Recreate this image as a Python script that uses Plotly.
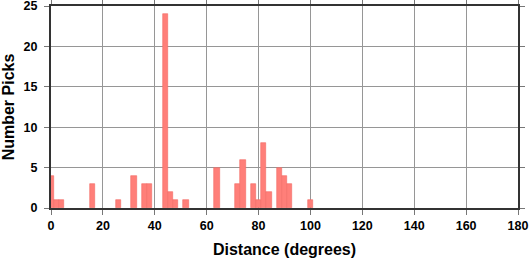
import plotly.graph_objects as go

# Histogram bins (2-degree bins, centers)
bin_centers = [0, 2, 4, 16, 26, 32, 36, 38, 44, 46, 48, 52, 64, 72, 74, 78, 80, 82, 84, 88, 90, 92, 100]
counts = [4, 1, 1, 3, 1, 4, 3, 3, 24, 2, 1, 1, 5, 3, 6, 3, 1, 8, 2, 5, 4, 3, 1]
bin_width = 2

x_ticks = [0, 20, 40, 60, 80, 100, 120, 140, 160, 180]
y_ticks = [0, 5, 10, 15, 20, 25]

font_family = "Liberation Sans, Arial, Helvetica, sans-serif"

fig = go.Figure(
    go.Bar(
        x=bin_centers,
        y=counts,
        width=[bin_width] * len(bin_centers),
        marker=dict(color="#FF7F79", line=dict(color="#F46A64", width=0.6)),
    )
)

def axis_common():
    return dict(
        automargin=False,
        showgrid=True,
        gridcolor="rgb(150,150,150)",
        gridwidth=1,
        showline=True,
        linecolor="#333333",
        linewidth=2,
        mirror="ticks",
        ticks="outside",
        ticklen=5,
        tickcolor="#777777",
        tickwidth=1,
        zeroline=False,
        ticklabeloverflow="allow",
        tickfont=dict(family=font_family, size=12.5, color="black", weight="bold"),
    )

fig.update_layout(
    width=530,
    height=258,
    margin=dict(l=51, r=12, t=6, b=50),
    paper_bgcolor="white",
    plot_bgcolor="white",
    showlegend=False,
    bargap=0,
    xaxis=dict(
        range=[0, 180],
        tickmode="array",
        tickvals=x_ticks,
        ticktext=[str(v) for v in x_ticks],
        title=dict(text="Distance (degrees)", standoff=12,
                   font=dict(family=font_family, size=16, color="black", weight="bold")),
        **axis_common(),
    ),
    yaxis=dict(
        range=[0, 25],
        tickmode="array",
        tickvals=y_ticks,
        ticktext=[str(v) for v in y_ticks],
        title=dict(text="Number Picks", standoff=14,
                   font=dict(family=font_family, size=16, color="black", weight="bold")),
        ticklabelstandoff=4,
        **axis_common(),
    ),
)

fig.write_html("out.html")
